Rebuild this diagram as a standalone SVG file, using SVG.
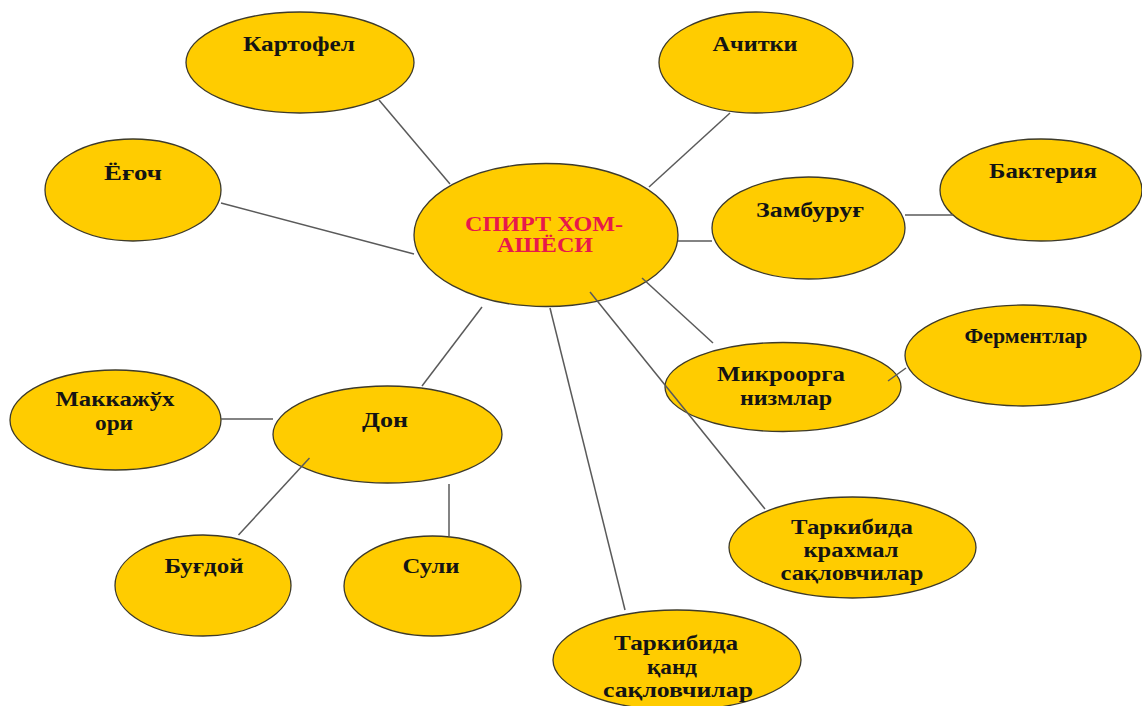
<svg xmlns="http://www.w3.org/2000/svg" width="1142" height="706" viewBox="0 0 1142 706">
<style>
.n{fill:#FFCC00;stroke:#3d3a2a;stroke-width:1.3}
.t{font-family:"Liberation Serif","Times New Roman",serif;font-weight:bold;font-size:21px;fill:#141414;text-anchor:middle}
.r{fill:#E8184B;font-size:20px}
.c line{stroke:#5a5a5a;stroke-width:1.5}
</style>
<rect width="1142" height="706" fill="#ffffff"/>
<g id="node-kartofel"><ellipse class="n" cx="300" cy="62.5" rx="114" ry="50.5"/><text class="t" x="299" y="51" textLength="112" lengthAdjust="spacingAndGlyphs">Картофел</text></g>
<g id="node-yogoch"><ellipse class="n" cx="133" cy="190" rx="88" ry="51"/><text class="t" x="133" y="180" textLength="58" lengthAdjust="spacingAndGlyphs">Ёғоч</text></g>
<g id="node-center"><ellipse class="n" cx="546" cy="235" rx="132" ry="71.5"/><text class="t r" x="544" y="230.5" textLength="158" lengthAdjust="spacingAndGlyphs">СПИРТ ХОМ-</text><text class="t r" x="545" y="252" textLength="96" lengthAdjust="spacingAndGlyphs">АШЁСИ</text></g>
<g id="node-achitki"><ellipse class="n" cx="756" cy="62.5" rx="97" ry="50.5"/><text class="t" x="755" y="51" textLength="85" lengthAdjust="spacingAndGlyphs">Ачитки</text></g>
<g id="node-zamburug"><ellipse class="n" cx="808.5" cy="228" rx="96.5" ry="51"/><text class="t" x="810" y="217" textLength="108" lengthAdjust="spacingAndGlyphs">Замбуруғ</text></g>
<g id="node-bakteriya"><ellipse class="n" cx="1041" cy="190" rx="101" ry="51"/><text class="t" x="1043" y="178" textLength="108" lengthAdjust="spacingAndGlyphs">Бактерия</text></g>
<g id="node-fermentlar"><ellipse class="n" cx="1023" cy="355.5" rx="118" ry="50.5"/><text class="t" x="1026" y="343" textLength="123" lengthAdjust="spacingAndGlyphs">Ферментлар</text></g>
<g id="node-mikro"><ellipse class="n" cx="783" cy="387" rx="118" ry="44.5"/><text class="t" x="781" y="381" textLength="128" lengthAdjust="spacingAndGlyphs">Микроорга</text><text class="t" x="786" y="405" textLength="92" lengthAdjust="spacingAndGlyphs">низмлар</text></g>
<g id="node-krahmal"><ellipse class="n" cx="852.5" cy="547.5" rx="123.5" ry="50.5"/><text class="t" x="852" y="534" textLength="122" lengthAdjust="spacingAndGlyphs">Таркибида</text><text class="t" x="851" y="557" textLength="95" lengthAdjust="spacingAndGlyphs">крахмал</text><text class="t" x="852" y="580" textLength="143" lengthAdjust="spacingAndGlyphs">сақловчилар</text></g>
<g id="node-qand"><ellipse class="n" cx="677" cy="660" rx="124" ry="50"/><text class="t" x="676" y="650" textLength="124" lengthAdjust="spacingAndGlyphs">Таркибида</text><text class="t" x="672" y="674" textLength="50" lengthAdjust="spacingAndGlyphs">қанд</text><text class="t" x="678" y="697" textLength="150" lengthAdjust="spacingAndGlyphs">сақловчилар</text></g>
<g id="node-makkajuxori"><ellipse class="n" cx="115.5" cy="420" rx="105.5" ry="50"/><text class="t" x="115" y="406" textLength="119" lengthAdjust="spacingAndGlyphs">Маккажўх</text><text class="t" x="114" y="430" textLength="38" lengthAdjust="spacingAndGlyphs">ори</text></g>
<g id="node-don"><ellipse class="n" cx="387.5" cy="434.5" rx="114.5" ry="48.5"/><text class="t" x="385" y="427" textLength="46" lengthAdjust="spacingAndGlyphs">Дон</text></g>
<g id="node-bugdoy"><ellipse class="n" cx="203" cy="585.5" rx="88" ry="50.5"/><text class="t" x="204" y="573" textLength="79" lengthAdjust="spacingAndGlyphs">Буғдой</text></g>
<g id="node-suli"><ellipse class="n" cx="432.5" cy="586" rx="88.5" ry="50"/><text class="t" x="431" y="573" textLength="57" lengthAdjust="spacingAndGlyphs">Сули</text></g>
<g id="connectors" class="c">
<line x1="379" y1="100" x2="450" y2="184"/>
<line x1="221" y1="203" x2="414" y2="254"/>
<line x1="730" y1="113" x2="649" y2="187"/>
<line x1="678" y1="241" x2="712" y2="241"/>
<line x1="905" y1="215" x2="953" y2="215"/>
<line x1="642" y1="278" x2="713" y2="343"/>
<line x1="590" y1="292" x2="765" y2="509"/>
<line x1="550" y1="308" x2="625" y2="610"/>
<line x1="482" y1="307" x2="422" y2="386"/>
<line x1="221" y1="419" x2="273" y2="419"/>
<line x1="309.5" y1="458" x2="238.5" y2="535"/>
<line x1="449" y1="484" x2="449" y2="536"/>
<line x1="888" y1="381" x2="906" y2="368"/>
</g>
</svg>
